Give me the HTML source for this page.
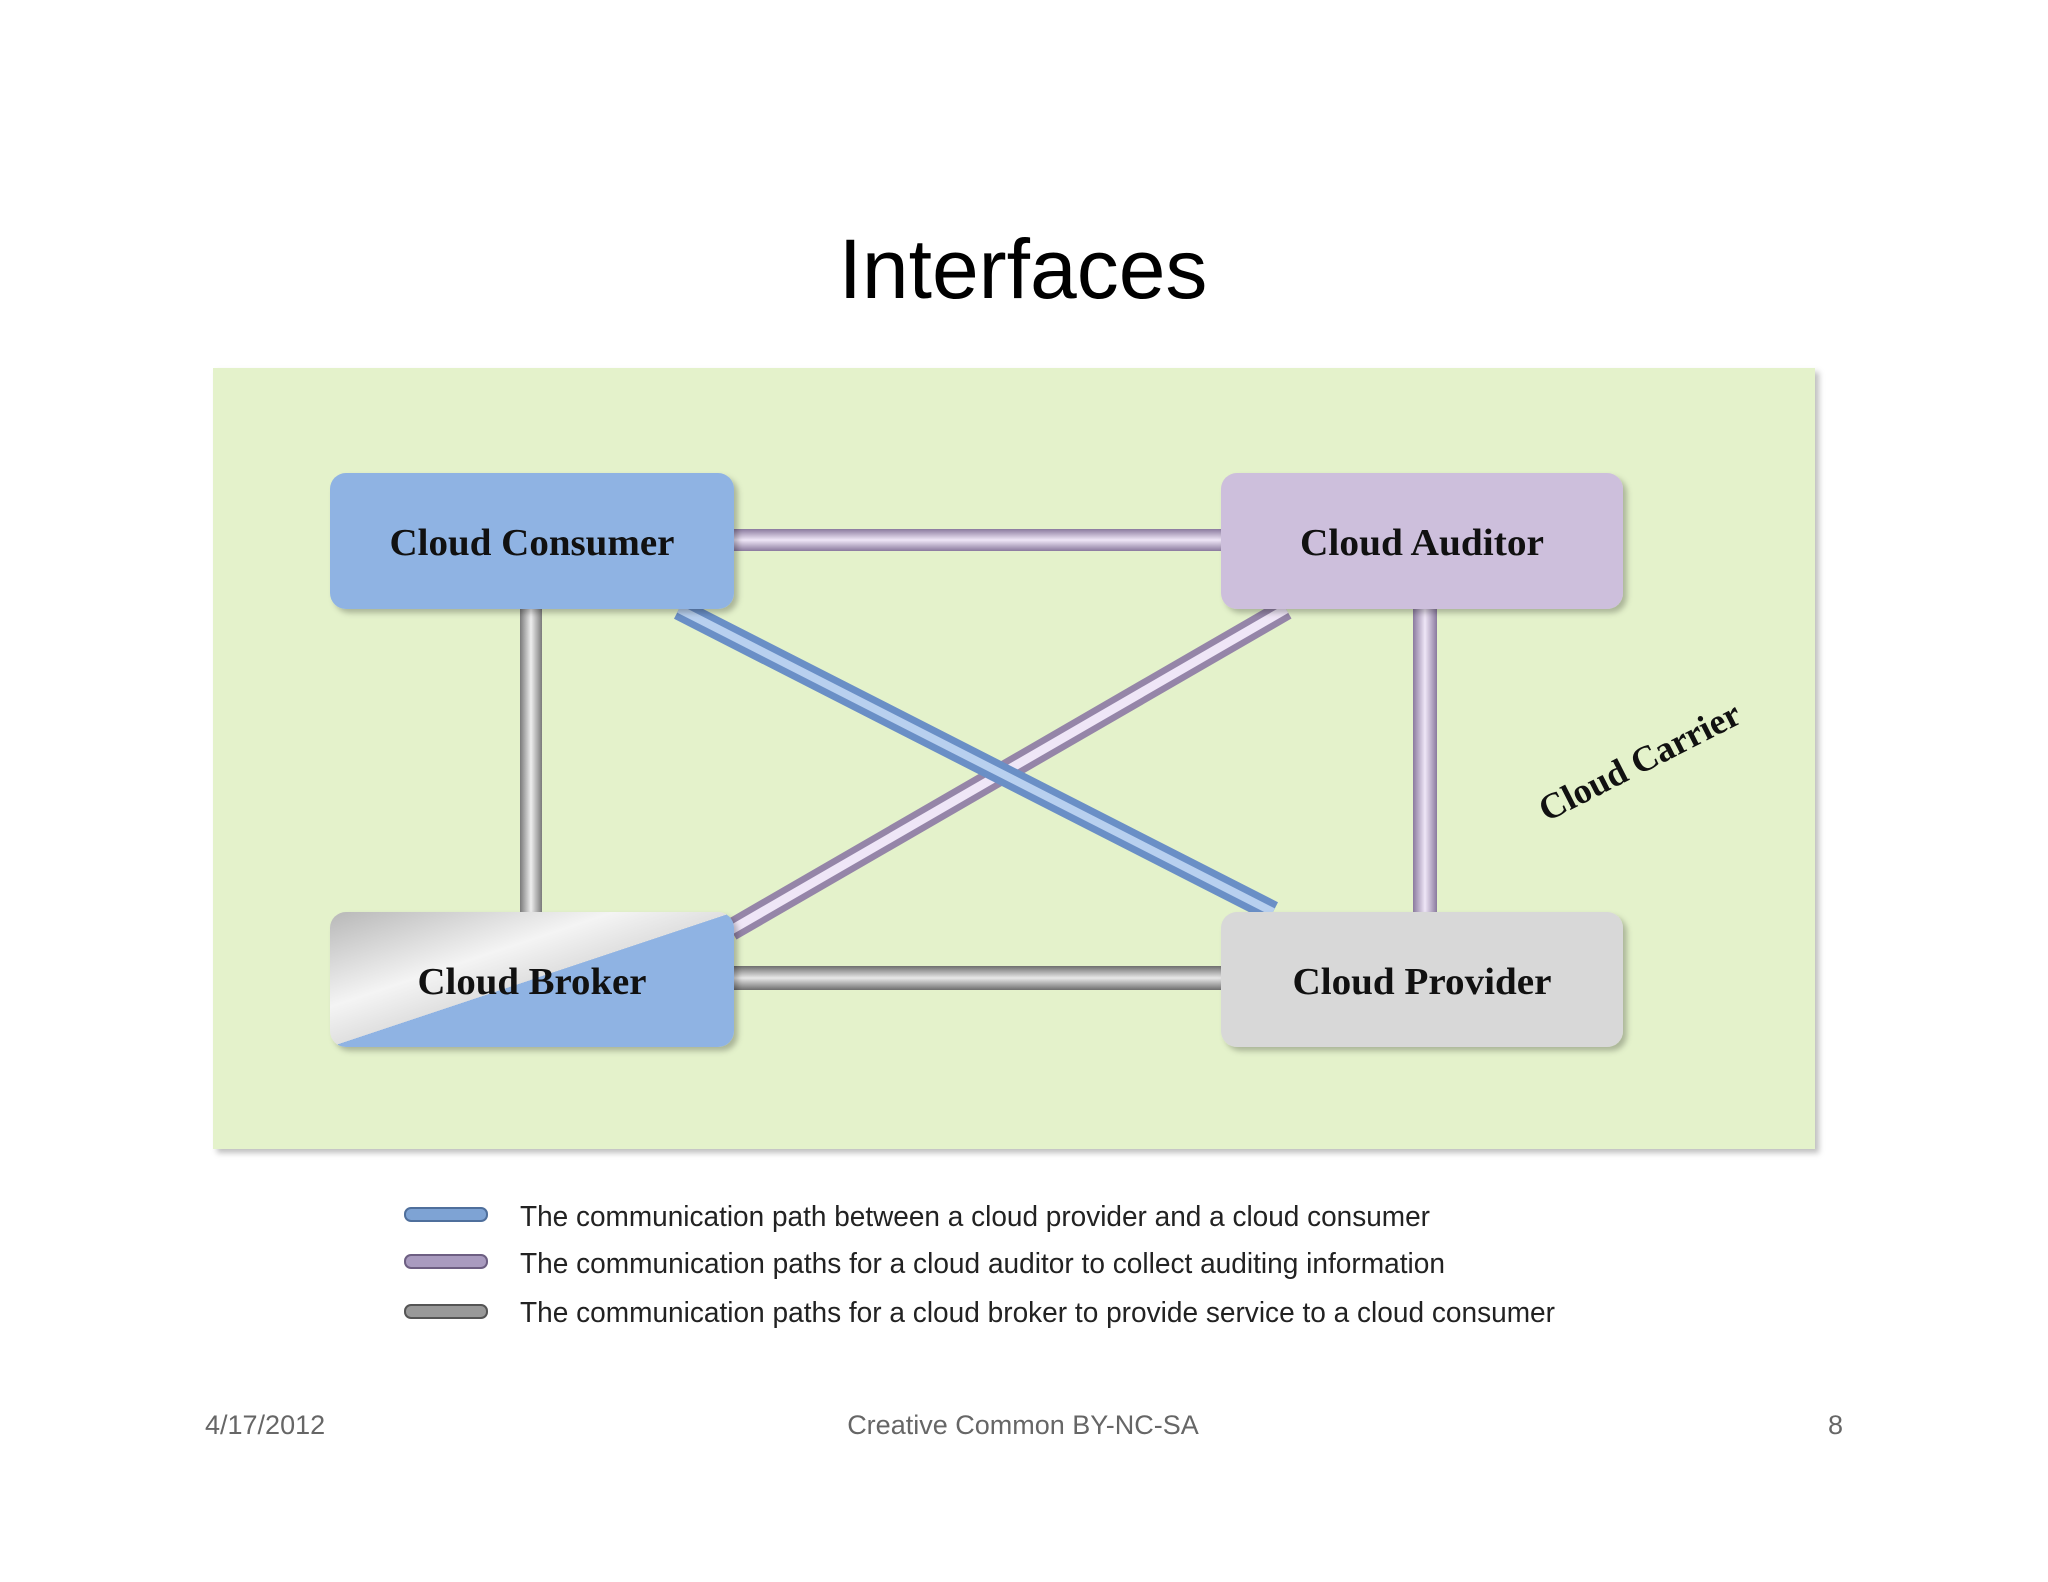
<!DOCTYPE html>
<html><head><meta charset="utf-8"><style>html,body{margin:0;padding:0;background:#fff}svg{display:block}</style></head>
<body>
<svg width="2048" height="1582" viewBox="0 0 2048 1582" xmlns="http://www.w3.org/2000/svg">
<defs>
<filter id="sh" x="-10%" y="-10%" width="130%" height="130%"><feDropShadow dx="4" dy="4" stdDeviation="3" flood-color="#000" flood-opacity="0.25"/></filter>
<linearGradient id="hp" x1="0" y1="0" x2="0" y2="1"><stop offset="0" stop-color="#8a7a9e"/><stop offset="0.5" stop-color="#efe6f7"/><stop offset="1" stop-color="#8a7a9e"/></linearGradient>
<linearGradient id="hg" x1="0" y1="0" x2="0" y2="1"><stop offset="0" stop-color="#6e6e6e"/><stop offset="0.5" stop-color="#e8e8e8"/><stop offset="1" stop-color="#6e6e6e"/></linearGradient>
<linearGradient id="vg" x1="0" y1="0" x2="1" y2="0"><stop offset="0" stop-color="#7a7a7a"/><stop offset="0.5" stop-color="#eeeeee"/><stop offset="1" stop-color="#7a7a7a"/></linearGradient>
<linearGradient id="vp" x1="0" y1="0" x2="1" y2="0"><stop offset="0" stop-color="#8a7a9e"/><stop offset="0.5" stop-color="#efe6f7"/><stop offset="1" stop-color="#8a7a9e"/></linearGradient>
<linearGradient id="br" x1="0" y1="0" x2="1" y2="1"><stop offset="0" stop-color="#b8b8b8"/><stop offset="0.35" stop-color="#f4f4f4"/><stop offset="0.5" stop-color="#e0e0e0"/><stop offset="0.5" stop-color="#8fb3e3"/><stop offset="1" stop-color="#8fb3e3"/></linearGradient>
</defs>
<text x="1023" y="298" font-family="Liberation Sans, sans-serif" font-size="84" text-anchor="middle" fill="#000">Interfaces</text>
<rect x="213" y="368" width="1602" height="781" fill="#e4f2cb" filter="url(#sh)"/>
<rect x="734" y="529" width="487" height="22" fill="url(#hp)"/>
<rect x="734" y="966" width="487" height="24" fill="url(#hg)"/>
<rect x="520" y="609" width="22" height="303" fill="url(#vg)"/>
<rect x="1413" y="609" width="24" height="303" fill="url(#vp)"/>
<line x1="1286" y1="609" x2="731" y2="930" stroke="#9585a8" stroke-width="22"/>
<line x1="1286" y1="609" x2="731" y2="930" stroke="#efe6f7" stroke-width="9"/>
<line x1="679" y1="609" x2="1273" y2="912" stroke="#6a8fc6" stroke-width="22"/>
<line x1="679" y1="609" x2="1273" y2="912" stroke="#b8d0ef" stroke-width="8"/>
<rect x="330" y="473" width="404" height="136" rx="16" fill="#8fb3e3" filter="url(#sh)"/>
<rect x="1221" y="473" width="402" height="136" rx="16" fill="#cdbfdc" filter="url(#sh)"/>
<rect x="330" y="912" width="404" height="135" rx="16" fill="url(#br)" filter="url(#sh)"/>
<rect x="1221" y="912" width="402" height="135" rx="16" fill="#d8d8d8" filter="url(#sh)"/>
<g font-family="Liberation Serif, serif" font-weight="bold" font-size="38" text-anchor="middle" fill="#111">
<text x="532" y="555" textLength="285" lengthAdjust="spacingAndGlyphs">Cloud Consumer</text>
<text x="1422" y="555" textLength="244" lengthAdjust="spacingAndGlyphs">Cloud Auditor</text>
<text x="532" y="994" textLength="229" lengthAdjust="spacingAndGlyphs">Cloud Broker</text>
<text x="1422" y="994" textLength="259" lengthAdjust="spacingAndGlyphs">Cloud Provider</text>
<text x="1645" y="772" transform="rotate(-27 1645 772)" font-size="36">Cloud Carrier</text>
</g>
<rect x="405" y="1208" width="82" height="13" rx="6" fill="#7ea3d4" stroke="#4f6f9c" stroke-width="2"/>
<rect x="405" y="1255" width="82" height="13" rx="6" fill="#a99bbf" stroke="#6d5f82" stroke-width="2"/>
<rect x="405" y="1305" width="82" height="13" rx="6" fill="#999" stroke="#555" stroke-width="2"/>
<g font-family="Liberation Sans, sans-serif" font-size="29" fill="#222">
<text x="520" y="1226" textLength="910" lengthAdjust="spacingAndGlyphs">The communication path between a cloud provider and a cloud consumer</text>
<text x="520" y="1273" textLength="925" lengthAdjust="spacingAndGlyphs">The communication paths for a cloud auditor to collect auditing information</text>
<text x="520" y="1322" textLength="1035" lengthAdjust="spacingAndGlyphs">The communication paths for a cloud broker to provide service to a cloud consumer</text>
</g>
<g font-family="Liberation Sans, sans-serif" font-size="27" fill="#666">
<text x="205" y="1434">4/17/2012</text>
<text x="1023" y="1434" text-anchor="middle">Creative Common BY-NC-SA</text>
<text x="1843" y="1434" text-anchor="end">8</text>
</g>
</svg>
</body></html>
